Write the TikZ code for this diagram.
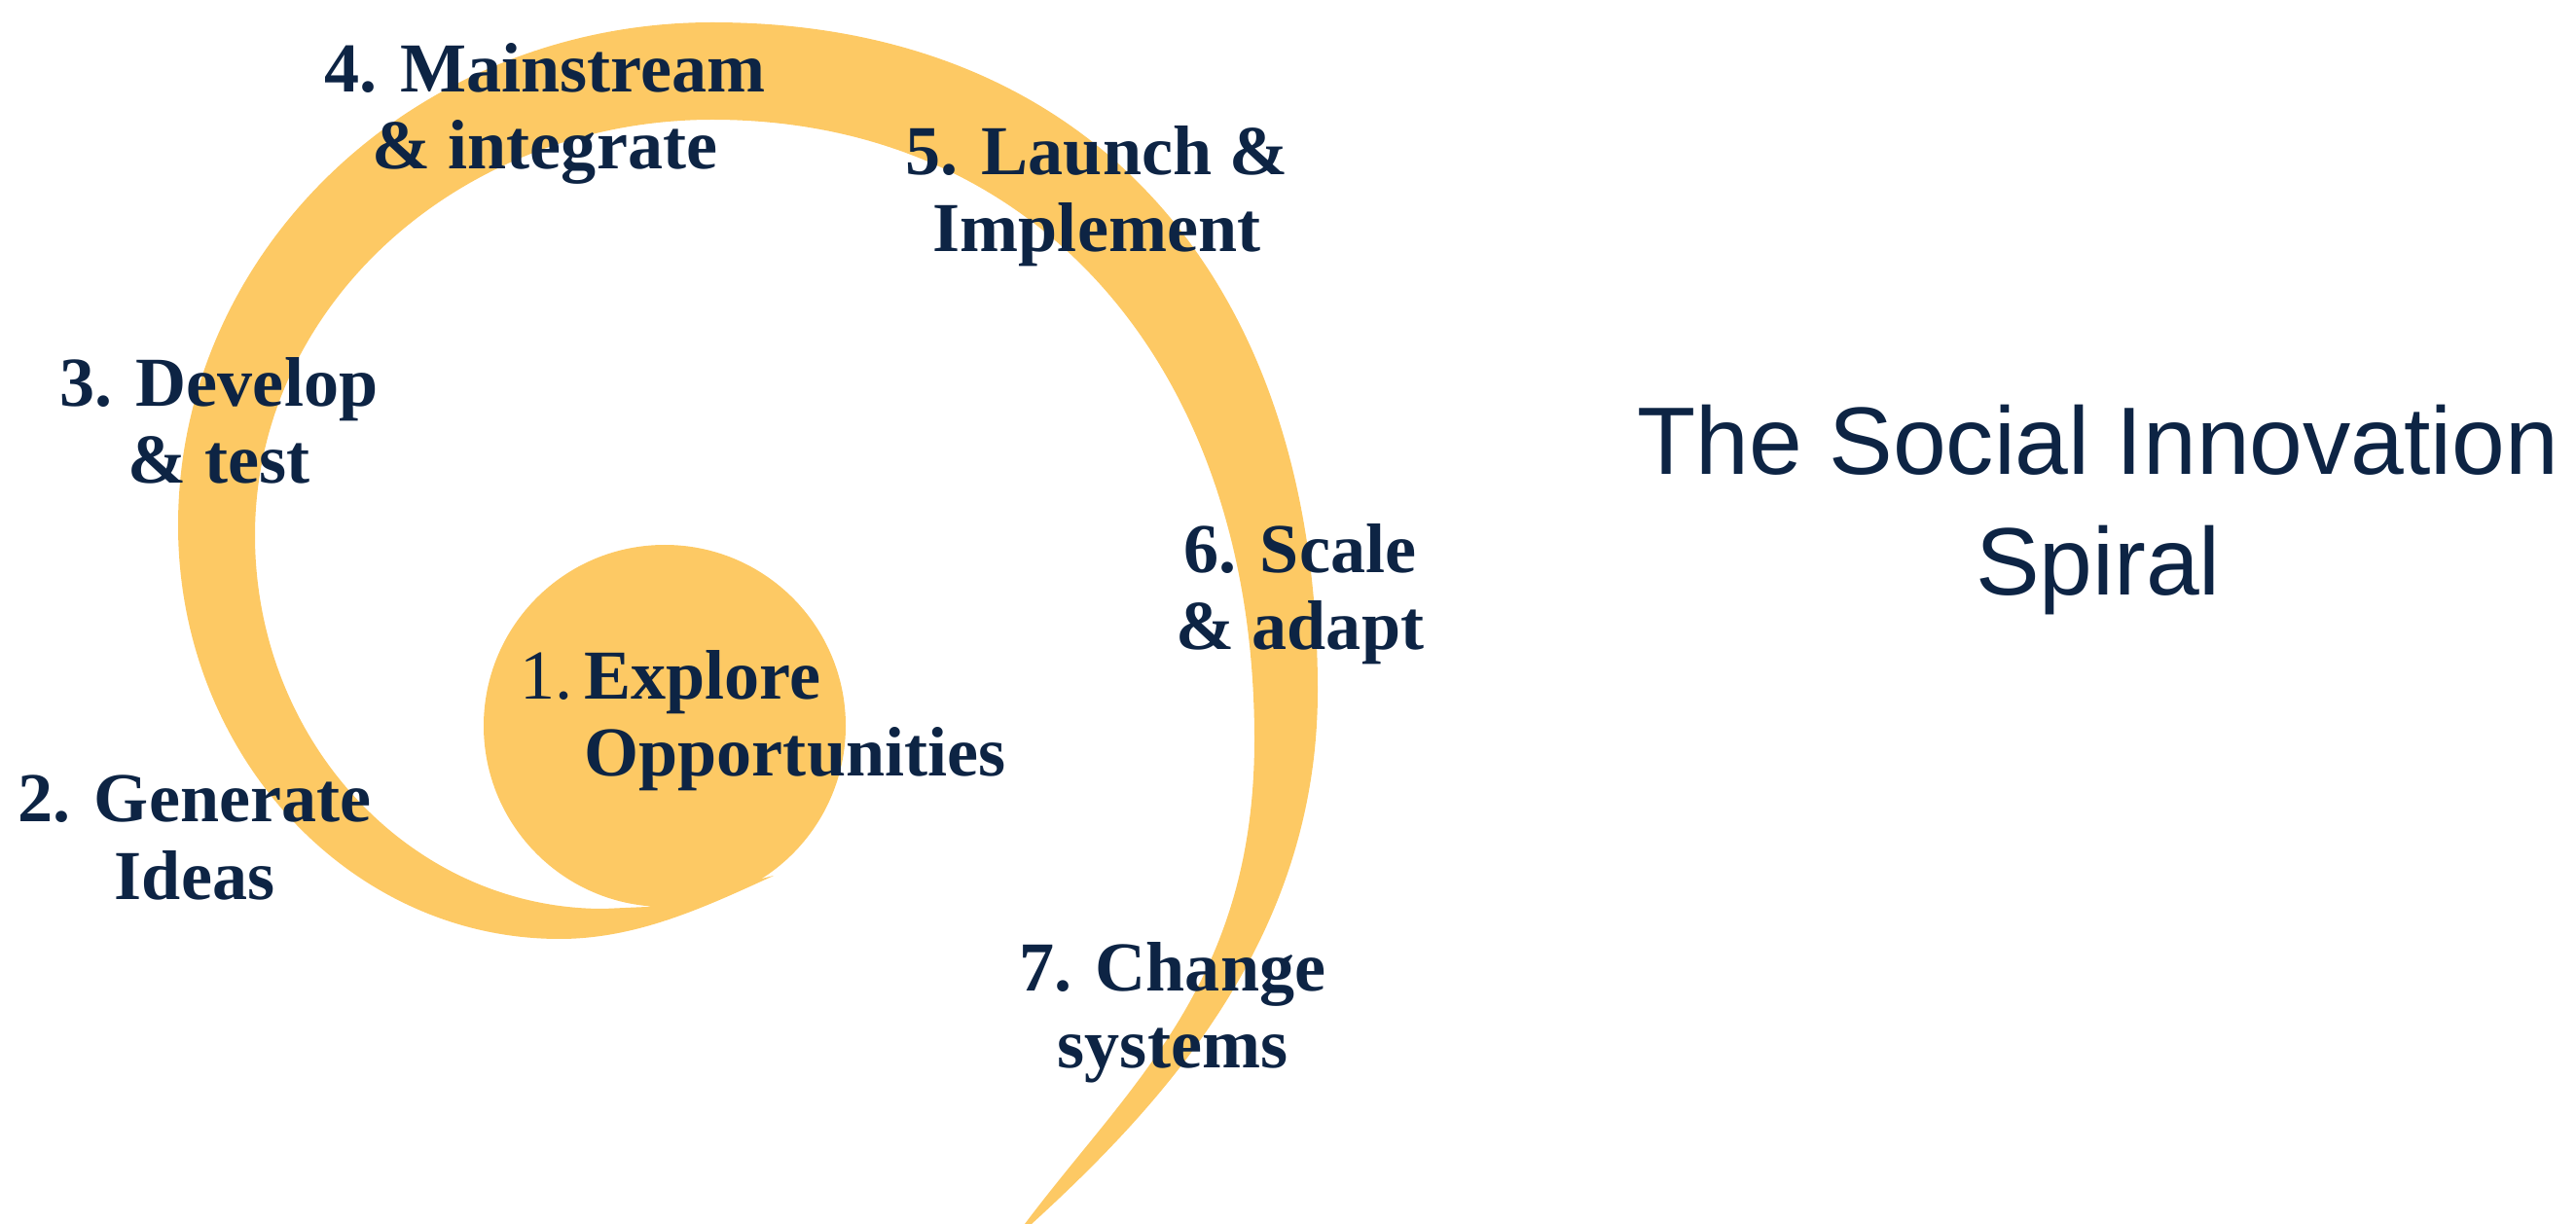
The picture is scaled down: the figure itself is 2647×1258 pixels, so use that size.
\documentclass[tikz,border=0pt]{standalone}
\usepackage{fontspec}
\usepackage{xcolor}
\usepackage{tikz}
\setmainfont{Liberation Serif}
\newfontfamily\titlefont{Liberation Sans}
\definecolor{colorS}{HTML}{FDC964}
\definecolor{colorT}{HTML}{0D2444}
\tikzset{
    stage/.style={align=center, text=colorT, inner sep=0pt, font=\bfseries\fontsize{20.5}{22.5}\selectfont},
    heading/.style={align=center, text=colorT, inner sep=0pt, font=\titlefont\fontsize{28}{35.5}\selectfont}
}

\begin{document}
\begin{tikzpicture}[x=0.01cm, y=-0.01cm]
        \useasboundingbox (0,0) rectangle (2647,1258);
        \fill[colorS] (795,900) .. controls (725,932) and (655,965) .. (575,965)
            .. controls (359,965) and (183,775) .. (183,540)
            .. controls (183,255) and (429,23) .. (732,23)
            .. controls (1118,23) and (1354,284) .. (1354,710)
            .. controls (1354,960) and (1200,1130) .. (1060,1258)
            -- (1053,1258)
            .. controls (1161,1114) and (1289,1010) .. (1289,760)
            .. controls (1289,378) and (1066,123) .. (732,123)
            .. controls (473,123) and (262,314) .. (262,550)
            .. controls (262,762) and (422,934) .. (620,934)
            -- (665,932) -- cycle;
        \fill[colorS] (683,746) circle [radius=186];
        \node[stage, align=left] (explore) at (817,741) {\llap{\mdseries 1.\,}Explore\\Opportunities};
        \node[stage] (generate) at (200,861) {2. Generate\\Ideas};
        \node[stage] (develop) at (225,432) {3. Develop\\\& test};
        \node[stage] (mainstream) at (560,117) {4. Mainstream\\\& integrate};
        \node[stage] (launch) at (1127,202) {5. Launch \&\\Implement};
        \node[stage] (scale) at (1336,611) {6. Scale\\\& adapt};
        \node[stage] (change) at (1205,1041) {7. Change\\systems};
        \node[heading] (title) at (2156,524) {The Social Innovation\\Spiral};
    \end{tikzpicture}
\end{document}
